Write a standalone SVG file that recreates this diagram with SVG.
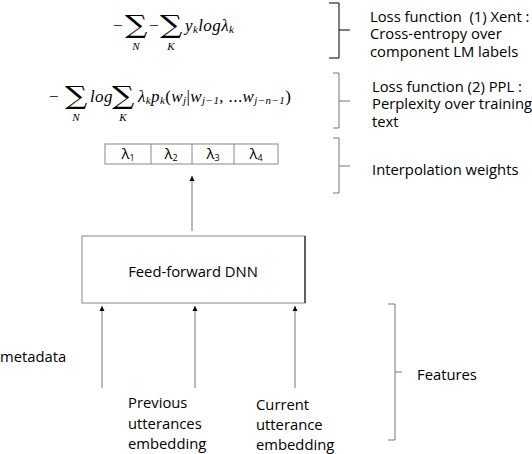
<svg xmlns="http://www.w3.org/2000/svg" width="532" height="454" viewBox="0 0 532 454">
<style>
.t{font-family:"Open Sans","Liberation Sans",sans-serif;font-size:14.8px;fill:#000}
.m{font-family:"Liberation Serif","DejaVu Serif",serif;font-style:italic;font-size:17px;fill:#000;letter-spacing:0.4px}
.mu{font-family:"Liberation Serif","DejaVu Serif",serif;font-size:17px;fill:#000}
.sig{font-family:"DejaVu Serif","Liberation Serif",serif;font-size:25px;fill:#000}
.sub{font-family:"Liberation Serif",serif;font-style:italic;font-size:11px;fill:#000}
.br{fill:none;stroke:#777;stroke-width:1}
.conn{stroke:#777;stroke-width:1;fill:none}
.box{fill:#fff;stroke:#888;stroke-width:1}
</style>
<defs>
<marker id="ah" markerWidth="6" markerHeight="6" refX="5" refY="3" orient="auto" markerUnits="userSpaceOnUse">
<path d="M0,0.5 L5,3 L0,5.5 z" fill="#000"/>
</marker>
</defs>
<g id="formula1">
<text class="mu" x="113" y="31">−</text>
<text class="sig" transform="translate(125,33) scale(1.25,1)" x="0" y="0">∑</text>
<text class="sub" x="136" y="50" text-anchor="middle">N</text>
<text class="mu" x="149" y="31">−</text>
<text class="sig" transform="translate(160,33) scale(1.25,1)" x="0" y="0">∑</text>
<text class="sub" x="171" y="50" text-anchor="middle">K</text>
<text class="m" x="185" y="31">y<tspan font-size="11" dy="2">k</tspan><tspan dy="-2">log</tspan>λ<tspan font-size="11" dy="2">k</tspan></text>
</g>
<g id="formula2">
<text class="mu" x="49" y="102">−</text>
<text class="sig" transform="translate(65,104) scale(1.25,1)" x="0" y="0">∑</text>
<text class="sub" x="76" y="121" text-anchor="middle">N</text>
<text class="m" x="90" y="102">log</text>
<text class="sig" transform="translate(112,104) scale(1.25,1)" x="0" y="0">∑</text>
<text class="sub" x="123" y="121" text-anchor="middle">K</text>
<text class="m" x="138" y="102">λ<tspan font-size="11" dy="2">k</tspan><tspan dy="-2">p</tspan><tspan font-size="11" dy="2">k</tspan><tspan font-style="normal" dy="-2">(</tspan>w<tspan font-size="11" dy="2">j</tspan><tspan font-style="normal" dy="-2">|</tspan>w<tspan font-size="11" dy="2">j−1</tspan><tspan font-style="normal" dy="-2">, ...</tspan>w<tspan font-size="11" dy="2">j−n−1</tspan><tspan font-style="normal" dy="-2">)</tspan></text>
</g>
<g id="brackets">
<path d="M329,3 H339 V58 H329 M339,30 H350" fill="none" stroke="#000" stroke-width="1"/>
<path class="br" d="M333,73 H339 V128 H333 M339,101 H350"/>
<path class="br" d="M333,138 H339 V193 H333 M339,166 H350"/>
<path class="br" d="M388,304 H395 V440 H388 M395,372 H402"/>
</g>
<g id="labels">
<text class="t" x="370" y="22" xml:space="preserve" style="white-space:pre">Loss function  (1) Xent :</text>
<text class="t" x="370" y="39">Cross-entropy over</text>
<text class="t" x="370" y="57">component LM labels</text>
<text class="t" x="372" y="92">Loss function (2) PPL :</text>
<text class="t" x="372" y="109">Perplexity over training</text>
<text class="t" x="372" y="127">text</text>
<text class="t" x="372" y="175">Interpolation weights</text>
<text class="t" x="417" y="380">Features</text>
</g>
<g id="lambdas">
<rect class="box" x="105" y="144" width="173" height="20" stroke="#333"/>
<path d="M151,144 V164 M192,144 V164 M234,144 V164" stroke="#888" stroke-width="1"/>
<text class="t" x="128" y="159" text-anchor="middle">λ<tspan font-size="9" dy="2">1</tspan></text>
<text class="t" x="171" y="159" text-anchor="middle">λ<tspan font-size="9" dy="2">2</tspan></text>
<text class="t" x="213" y="159" text-anchor="middle">λ<tspan font-size="9" dy="2">3</tspan></text>
<text class="t" x="256" y="159" text-anchor="middle">λ<tspan font-size="9" dy="2">4</tspan></text>
</g>
<g id="dnn">
<rect class="box" x="82" y="236" width="223" height="67"/>
<path d="M305,236 V303" stroke="#000" stroke-width="1"/>
<text class="t" x="193" y="277" text-anchor="middle">Feed-forward DNN</text>
</g>
<g id="metadata"><text class="t" x="0" y="362">metadata</text></g>
<g id="prev">
<text class="t" x="128" y="408">Previous</text>
<text class="t" x="128" y="429">utterances</text>
<text class="t" x="128" y="449">embedding</text>
</g>
<g id="curr">
<text class="t" x="256" y="410">Current</text>
<text class="t" x="256" y="430">utterance</text>
<text class="t" x="256" y="450">embedding</text>
</g>
<g id="connectors">
<line class="conn" x1="192" y1="231" x2="192" y2="176" marker-end="url(#ah)"/>
<line class="conn" x1="102" y1="388" x2="102" y2="306" marker-end="url(#ah)"/>
<line class="conn" x1="195" y1="388" x2="195" y2="306" marker-end="url(#ah)"/>
<line class="conn" x1="295" y1="388" x2="295" y2="306" marker-end="url(#ah)"/>
</g>
</svg>
